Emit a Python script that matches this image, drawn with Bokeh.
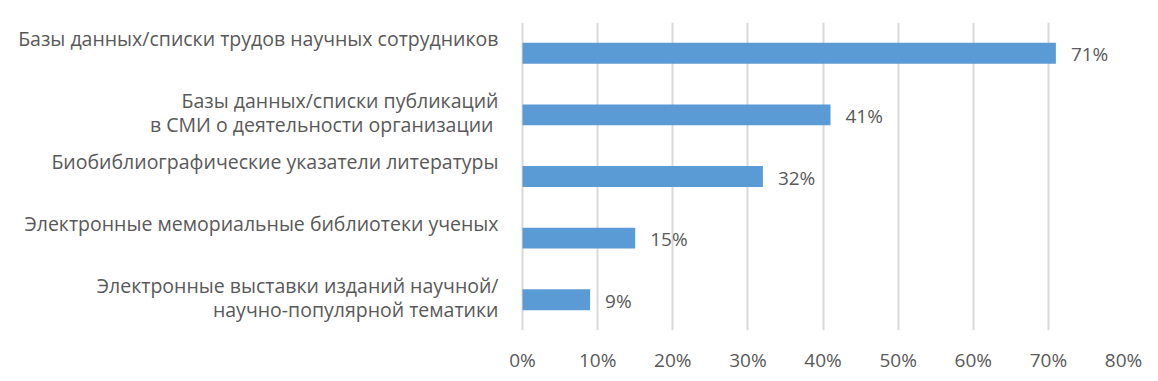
from bokeh.plotting import figure
from bokeh.models import Range1d, Label, LabelSet, FixedTicker, ColumnDataSource
from bokeh.embed import file_html
from bokeh.resources import INLINE
from bokeh.core.properties import value

categories = [
    "Базы данных/списки трудов научных сотрудников",
    "Базы данных/списки публикаций\nв СМИ о  деятельности организации",
    "Биобиблиографические указатели литературы",
    "Электронные мемориальные библиотеки ученых",
    "Электронные выставки изданий научной/\nнаучно-популярной тематики",
]
values = [71, 41, 32, 15, 9]
value_labels = ["71%", "41%", "32%", "15%", "9%"]
x_ticks = [0, 10, 20, 30, 40, 50, 60, 70, 80]
x_tick_labels = ["0%", "10%", "20%", "30%", "40%", "50%", "60%", "70%", "80%"]

FONT = "Open Sans"
TXT = "#595959"
FS = "19px"
CAT_FS = "19.5px"

n = len(categories)
ypos = [n - 1 - i for i in range(n)]
src = ColumnDataSource(dict(y=ypos, v=values, lab=value_labels))

# frame spans the whole width; value 0 sits at 522px, 80 at the right edge of the frame
W, H = 1158, 381
left_px, right_px = 522, 1123
x_max = 80
x_min = -left_px * x_max / (right_px - left_px)

p = figure(width=W, height=H, output_backend="svg", toolbar_location=None,
           x_range=Range1d(x_min, x_max), y_range=Range1d(-0.5, n - 0.5),
           min_border_left=0, min_border_right=W - right_px, min_border_top=22, min_border_bottom=51)
p.outline_line_color = None
p.background_fill_color = "white"
p.border_fill_color = "white"

p.hbar(y="y", right="v", left=0, height=0.34, color="#5b9bd5", line_color=None, source=src)

p.yaxis.visible = False
p.ygrid.grid_line_color = None

p.xaxis.ticker = FixedTicker(ticks=x_ticks)
p.xaxis.major_label_overrides = {t: l for t, l in zip(x_ticks, x_tick_labels)}
p.xaxis.axis_line_color = None
p.xaxis.major_tick_line_color = None
p.xaxis.minor_tick_line_color = None
p.xaxis.major_tick_out = 0
p.xaxis.major_tick_in = 0
p.xaxis.major_label_standoff = 16
p.xaxis.major_label_text_font = FONT
p.xaxis.major_label_text_font_size = FS
p.xaxis.major_label_text_color = TXT

p.xgrid.ticker = FixedTicker(ticks=x_ticks)
p.xgrid.grid_line_color = "#d9d9d9"
p.xgrid.grid_line_width = 2

p.add_layout(LabelSet(x="v", y="y", text="lab", source=src, x_offset=15, y_offset=-1,
                      text_baseline="middle", text_align="left",
                      text_font=value(FONT), text_font_size=value(FS), text_color=value(TXT)))

for cat, y in zip(categories, ypos):
    lines = cat.count("\n") + 1
    p.add_layout(Label(x=0, y=y, text=cat, x_offset=-24, y_offset=(15 if lines == 1 else 2),
                       text_align="right", text_baseline="middle", text_line_height=0.89,
                       text_font=FONT, text_font_size=CAT_FS, text_color=TXT))

open("out.html", "w").write(file_html(p, INLINE))
